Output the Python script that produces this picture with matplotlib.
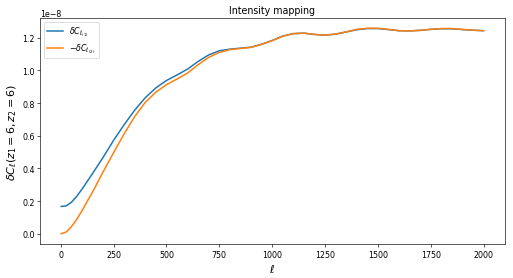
import matplotlib
matplotlib.use("Agg")
import matplotlib.pyplot as plt
import numpy as np

ell = np.array([2, 25, 50, 75, 100, 150, 200, 250, 300, 350, 400, 450, 500,
                550, 600, 650, 700, 750, 800, 850, 900, 950, 1000, 1050,
                1100, 1150, 1200, 1250, 1300, 1350, 1400, 1450, 1500, 1550,
                1600, 1650, 1700, 1750, 1800, 1850, 1900, 1950, 2000])

# delta C_ell (units of 1e-8)
dcl_1 = np.array([0.167, 0.170, 0.192, 0.228, 0.272, 0.368, 0.467, 0.572,
                  0.668, 0.757, 0.833, 0.893, 0.938, 0.972, 1.008, 1.055,
                  1.095, 1.120, 1.130, 1.136, 1.142, 1.160, 1.183, 1.210,
                  1.225, 1.228, 1.220, 1.216, 1.222, 1.235, 1.249, 1.256,
                  1.256, 1.250, 1.243, 1.242, 1.245, 1.251, 1.255, 1.255,
                  1.250, 1.246, 1.243])
dcl_2 = np.array([0.000, 0.010, 0.042, 0.087, 0.140, 0.255, 0.378, 0.497,
                  0.612, 0.718, 0.805, 0.867, 0.913, 0.947, 0.984, 1.035,
                  1.080, 1.110, 1.127, 1.134, 1.141, 1.159, 1.182, 1.209,
                  1.225, 1.228, 1.220, 1.216, 1.222, 1.236, 1.251, 1.258,
                  1.258, 1.251, 1.243, 1.242, 1.245, 1.252, 1.256, 1.256,
                  1.251, 1.246, 1.243])

fig, ax = plt.subplots(figsize=(9.0, 4.886), dpi=57.1)
plt.subplots_adjust(left=0.078, right=0.982, bottom=0.122, top=0.932)

ax.plot(ell, dcl_1 * 1e-8, lw=1.9, label=r'$\delta C_{\ell_{(1)}}$')
ax.plot(ell, dcl_2 * 1e-8, lw=1.9, label=r'$-\delta C_{\ell_{(2)}}$')

ax.set_title('Intensity mapping')
ax.set_xlabel(r'$\ell$', fontsize=14)
ax.set_ylabel(r'$\delta C_\ell(z_1=6, z_2=6)$', fontsize=14)
ax.legend(loc='upper left')

fig.savefig('out.png', dpi=57.1)
